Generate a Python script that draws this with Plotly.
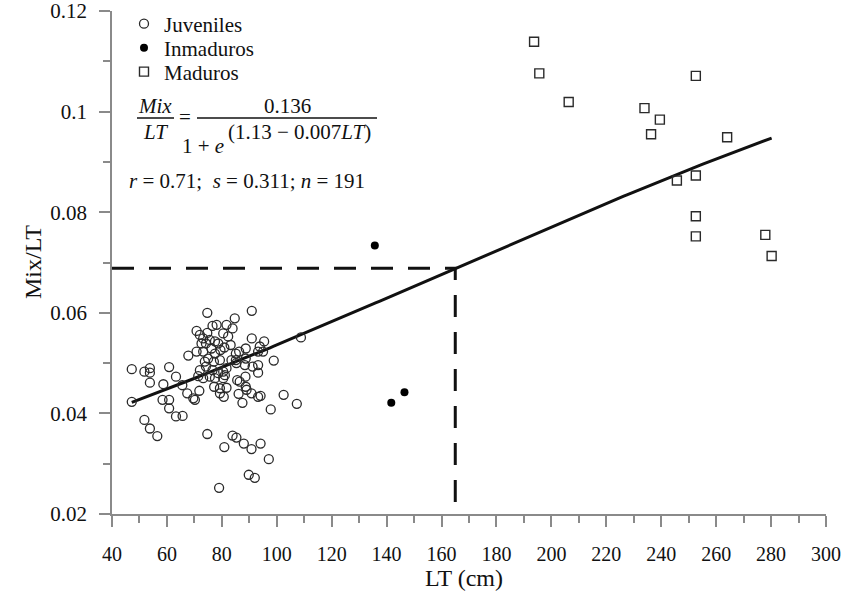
import numpy as np
import plotly.graph_objects as go

# ---- Data: LT (cm) and Mix/LT ratio per maturity stage ----
juv_lt = [74.7, 90.9, 84.7, 78.1, 76.6, 81.7, 83.9, 70.8, 72.0, 74.7,
          80.5, 82.3, 73.2, 75.6, 77.5, 74.2, 78.7, 80.9, 90.9, 95.4,
          88.7, 93.8, 108.8, 67.8, 70.8, 73.2, 77.5, 75.0, 79.3, 85.1,
          86.3, 83.5, 85.1, 88.7, 93.2, 95.0, 98.9, 47.2, 51.8, 53.8,
          53.8, 60.8, 72.0, 73.8, 74.2, 76.6, 78.7, 80.5, 81.7, 85.3,
          88.4, 91.2, 93.2, 93.2, 53.8, 58.7, 63.3, 65.6, 71.4, 73.2,
          75.6, 77.5, 80.5, 81.1, 85.6, 86.5, 88.6, 88.7, 67.4, 69.6,
          70.2, 71.8, 77.2, 79.3, 81.7, 79.3, 80.7, 86.1, 87.5, 89.0,
          90.8, 93.2, 94.1, 102.5, 107.3, 97.8, 47.2, 58.4, 60.8, 60.8,
          63.3, 65.7, 51.8, 53.8, 56.5, 74.7, 80.9, 83.9, 85.3, 88.0,
          90.8, 94.1, 97.1, 89.8, 92.0, 79.0, 72.6, 76.2, 79.5, 83.2,
          77.1]
juv_ratio = [0.0600, 0.0604, 0.0589, 0.0576, 0.0574, 0.0576, 0.0569, 0.0564, 0.0556, 0.0560,
             0.0559, 0.0553, 0.0549, 0.0546, 0.0543, 0.0539, 0.0539, 0.0531, 0.0549, 0.0543,
             0.0529, 0.0533, 0.0551, 0.0515, 0.0523, 0.0523, 0.0519, 0.0509, 0.0506, 0.0519,
             0.0523, 0.0506, 0.0506, 0.0509, 0.0523, 0.0523, 0.0505, 0.0488, 0.0483, 0.0490,
             0.0481, 0.0492, 0.0486, 0.0503, 0.0493, 0.0486, 0.0480, 0.0483, 0.0490, 0.0500,
             0.0496, 0.0493, 0.0496, 0.0481, 0.0461, 0.0458, 0.0473, 0.0456, 0.0474, 0.0470,
             0.0473, 0.0470, 0.0470, 0.0476, 0.0466, 0.0463, 0.0473, 0.0453, 0.0440, 0.0430,
             0.0427, 0.0445, 0.0453, 0.0450, 0.0451, 0.0440, 0.0433, 0.0439, 0.0421, 0.0447,
             0.0440, 0.0433, 0.0435, 0.0437, 0.0419, 0.0408, 0.0423, 0.0427, 0.0427, 0.0410,
             0.0394, 0.0395, 0.0387, 0.0370, 0.0355, 0.0359, 0.0333, 0.0356, 0.0352, 0.0340,
             0.0329, 0.0340, 0.0309, 0.0278, 0.0272, 0.0252, 0.0539, 0.0529, 0.0526, 0.0536,
             0.0503]

inm_lt = [135.7, 146.5, 141.7]
inm_ratio = [0.0734, 0.0442, 0.0421]

mad_lt = [193.7, 195.6, 206.3, 252.6, 233.9, 239.5, 236.3, 264.0, 245.7, 252.6,
          252.6, 252.6, 277.9, 280.2]
mad_ratio = [0.1139, 0.1076, 0.1019, 0.1071, 0.1007, 0.0984, 0.0955, 0.0949, 0.0863, 0.0873,
             0.0792, 0.0752, 0.0755, 0.0713]

# Logistic model Mix/LT = a / (1 + exp(b - c*LT))
a_coef, b_coef, c_coef = 0.136, 1.13, 0.007
lt50 = 165

x_ticks = list(range(40, 301, 20))
y_ticks = [0.02, 0.04, 0.06, 0.08, 0.1, 0.12]
y_ticktext = ["0.02", "0.04", "0.06", "0.08", "0.1", "0.12"]


def model(lt):
    return a_coef / (1.0 + np.exp(b_coef - c_coef * np.asarray(lt, dtype=float)))


all_lt = juv_lt + inm_lt + mad_lt
curve_x = np.linspace(min(all_lt), max(all_lt), 200)
curve_y = model(curve_x)
y50 = float(model(lt50))

SERIF = "Liberation Serif"
INK = "#111111"
AXIS = "#8a8a8a"

fig = go.Figure()

# Reference lines at the size of 50 % maturity
fig.add_trace(go.Scatter(
    x=[x_ticks[0], lt50, lt50], y=[y50, y50, y_ticks[0]],
    mode="lines", line=dict(color=INK, width=3, dash="22px,15px"),
    showlegend=False, hoverinfo="skip"))

fig.add_trace(go.Scatter(
    x=curve_x, y=curve_y, mode="lines",
    line=dict(color=INK, width=3), showlegend=False, hoverinfo="skip"))

fig.add_trace(go.Scatter(
    x=juv_lt, y=juv_ratio, mode="markers", name="Juveniles",
    marker=dict(symbol="circle-open", size=9, color="#2a2a2a", line=dict(width=1.3)),
    legend="legend"))
fig.add_trace(go.Scatter(
    x=inm_lt, y=inm_ratio, mode="markers", name="Inmaduros",
    marker=dict(symbol="circle", size=8, color="#000000"),
    legend="legend2"))
fig.add_trace(go.Scatter(
    x=mad_lt, y=mad_ratio, mode="markers", name="Maduros",
    marker=dict(symbol="square-open", size=9, color="#2a2a2a", line=dict(width=1.4)),
    legend="legend3"))

# Plot area geometry (pixels) used to place text in paper coordinates
L, R, T, B = 112, 826, 11, 514
W, H = R - L, B - T


def px(x):
    return (x - L) / W


def py(y):
    return (B - y) / H


def legend_box(ycenter):
    return dict(x=px(124), y=py(ycenter), xanchor="left", yanchor="middle",
                bgcolor="rgba(0,0,0,0)", borderwidth=0,
                font=dict(family=SERIF, size=21, color=INK),
                itemwidth=30, tracegroupgap=0)


annotations = []


def text(s, x, y, size=21, xanchor="center"):
    annotations.append(dict(text=s, x=px(x), y=py(y), xref="paper", yref="paper",
                            xanchor=xanchor, yanchor="middle", showarrow=False,
                            borderpad=0,
                            font=dict(family=SERIF, size=size, color=INK)))


# Equation of the fitted curve
text("<i>Mix</i>", 155, 106)
text("<i>LT</i>", 155, 132)
text("=", 185, 117)
text("0.136", 287, 106)
text("1 + <i>e</i>", 225, 146, xanchor="right")
text("(1.13 \u2212 0.007<i>LT</i>)", 227, 132, xanchor="left")
text("<i>r</i> = 0.71;  <i>s</i> = 0.311; <i>n</i> = 191", 128, 181, xanchor="left")

# Axis titles
text("LT (cm)", 464, 578, size=24)
annotations.append(dict(text="Mix/LT", x=px(33), y=py(262), xref="paper", yref="paper",
                        xanchor="center", yanchor="middle", showarrow=False, textangle=-90,
                        font=dict(family=SERIF, size=24, color=INK)))

shapes = [
    dict(type="line", xref="paper", yref="paper", x0=px(137), x1=px(174), y0=py(118), y1=py(118),
         line=dict(color=INK, width=1.3)),
    dict(type="line", xref="paper", yref="paper", x0=px(197), x1=px(377), y0=py(118), y1=py(118),
         line=dict(color=INK, width=1.3)),
]

fig.update_layout(
    width=844, height=592,
    margin=dict(l=L, r=844 - R, t=T, b=592 - B, autoexpand=False),
    paper_bgcolor="white", plot_bgcolor="white",
    font=dict(family=SERIF, color=INK),
    showlegend=True,
    legend=legend_box(24),
    legend2=legend_box(48),
    legend3=legend_box(72),
    annotations=annotations,
    shapes=shapes,
    xaxis=dict(
        range=[40, 300], tickvals=x_ticks, showgrid=False, zeroline=False,
        showline=True, linecolor=AXIS, linewidth=1.5,
        ticks="outside", ticklen=11, tickwidth=1.5, tickcolor=AXIS,
        ticklabelstandoff=10, ticklabeloverflow="allow",
        tickfont=dict(family=SERIF, size=20, color=INK),
        minor=dict(dtick=10, ticks="outside", ticklen=7, tickwidth=1.5, tickcolor=AXIS),
    ),
    yaxis=dict(
        range=[0.02, 0.12], tickvals=y_ticks, ticktext=y_ticktext, showgrid=False, zeroline=False,
        showline=True, linecolor=AXIS, linewidth=1.5,
        ticks="outside", ticklen=11, tickwidth=1.5, tickcolor=AXIS,
        ticklabelstandoff=8, ticklabeloverflow="allow",
        tickfont=dict(family=SERIF, size=21, color=INK),
        minor=dict(dtick=0.01, ticks="outside", ticklen=7, tickwidth=1.5, tickcolor=AXIS),
    ),
)

fig.write_html("out.html")
